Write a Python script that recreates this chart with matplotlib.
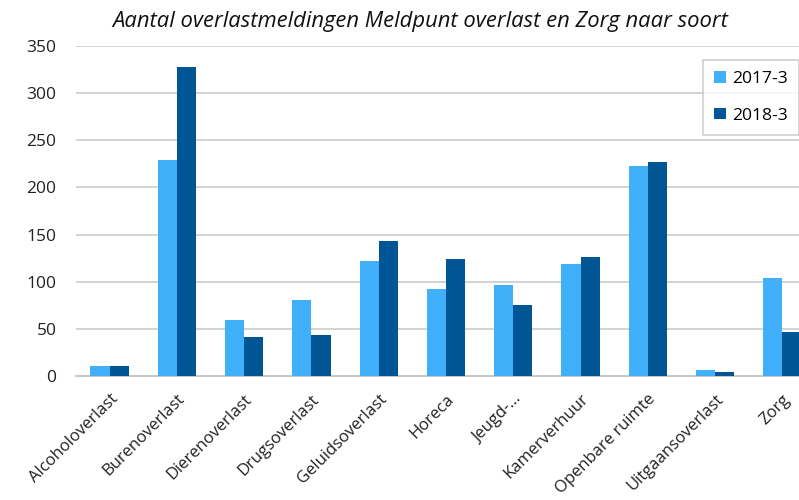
import matplotlib
matplotlib.use("Agg")
import matplotlib.pyplot as plt
import matplotlib.transforms as mtransforms
import numpy as np

categories = ["Alcoholoverlast", "Burenoverlast", "Dierenoverlast", "Drugsoverlast",
              "Geluidsoverlast", "Horeca", "Jeugd-...", "Kamerverhuur",
              "Openbare ruimte", "Uitgaansoverlast", "Zorg"]
series_2017 = [11, 229, 59, 81, 122, 92, 96, 119, 223, 6, 104]
series_2018 = [11, 328, 41, 44, 143, 124, 75, 126, 227, 4, 47]
yticks = [0, 50, 100, 150, 200, 250, 300, 350]

plt.rcParams['font.family'] = ['Open Sans', 'DejaVu Sans']

fig = plt.figure(figsize=(7.99, 5.0), dpi=100)
ax = fig.add_axes([76/799, 1-376/500, 740/799, 330/500])

x = np.arange(len(categories))
w = 0.285
c1 = "#41B0FB"
c2 = "#005694"
ax.bar(x - w/2, series_2017, w, color=c1, label="2017-3", zorder=3)
ax.bar(x + w/2, series_2018, w, color=c2, label="2018-3", zorder=3)

ax.set_xlim(-0.5, len(categories) - 0.5)
ax.set_ylim(0, 350)
ax.set_yticks(yticks)
ax.set_yticklabels([str(t) for t in yticks], fontsize=12.5, color="#222222")
ax.yaxis.grid(True, color="#D0D0D0", linewidth=1.3, zorder=0)
ax.set_axisbelow(True)
for s in ["top", "right", "left"]:
    ax.spines[s].set_visible(False)
ax.spines["bottom"].set_color("#C8C8C8")
ax.spines["bottom"].set_linewidth(1.5)
ax.tick_params(axis="y", length=0, pad=14)
ax.tick_params(axis="x", length=0, pad=11)
ax.set_xticks(x)
ax.set_xticklabels(categories, rotation=45, ha="right", rotation_mode="anchor",
                   fontsize=12, color="#222222")
for lbl in ax.get_xticklabels():
    lbl.set_transform(lbl.get_transform() + mtransforms.ScaledTranslation(0, 0, fig.dpi_scale_trans))

fig.text(420/799, 1-21/500, "Aantal overlastmeldingen Meldpunt overlast en Zorg naar soort",
         ha="center", va="center", fontsize=15.8, style="italic", color="#111111")

leg = ax.legend(loc="upper left", bbox_to_anchor=(703/799, 1-60/500), bbox_transform=fig.transFigure,
                fontsize=12.6, frameon=True, fancybox=False, edgecolor="#C8C8C8",
                handlelength=0.65, handleheight=0.65, handletextpad=0.35,
                labelspacing=1.15, borderpad=0.65, borderaxespad=0)
leg.get_frame().set_linewidth(1.3)

fig.savefig("out.png", dpi=100)
